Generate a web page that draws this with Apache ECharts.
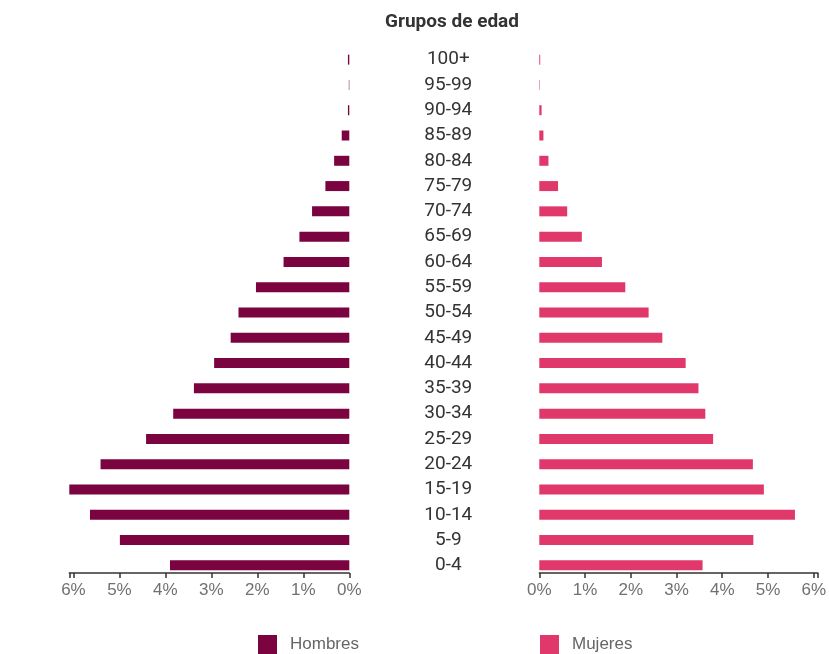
<!DOCTYPE html>
<html>
<head>
<meta charset="utf-8">
<title>Grupos de edad</title>
<script src="https://cdn.jsdelivr.net/npm/echarts@6/dist/echarts.min.js"></script>
<style>
  html, body { margin: 0; padding: 0; background: #fff; }
  #chart { width: 829px; height: 654px; }
</style>
</head>
<body>
<div id="chart"></div>
<script>
// age groups, bottom to top
const ageGroups = ['0-4', '5-9', '10-14', '15-19', '20-24', '25-29', '30-34', '35-39', '40-44',
  '45-49', '50-54', '55-59', '60-64', '65-69', '70-74', '75-79', '80-84', '85-89', '90-94', '95-99', '100+']

// % of population
const hombres = [3.90, 4.99, 5.64, 6.09, 5.41, 4.42, 3.83, 3.38, 2.94,
  2.58, 2.41, 2.03, 1.43, 1.085, 0.81, 0.52, 0.33, 0.165, 0.03, 0.01, 0.03]
const mujeres = [3.57, 4.68, 5.59, 4.91, 4.67, 3.80, 3.63, 3.48, 3.20,
  2.69, 2.39, 1.88, 1.37, 0.93, 0.61, 0.41, 0.20, 0.09, 0.05, 0.01, 0.02]

const seriesNames = ['Hombres', 'Mujeres']
const colors = ['#7b0340', '#e0386a']

const axisMax = Math.max(...hombres, ...mujeres)

const chart = echarts.init(document.getElementById('chart'))

const gridTop = 47
const gridBottom = 76

const valueAxis = (gridIndex, inverse) => ({
  type: 'value',
  gridIndex,
  inverse,
  min: 0,
  max: axisMax,
  interval: 1,
  position: 'bottom',
  offset: -5,
  splitLine: { show: false },
  axisLine: { show: true, lineStyle: { color: '#333', width: 1.5 } },
  axisTick: { show: true, length: 5, lineStyle: { color: '#333', width: 1.5 } },
  axisLabel: {
    color: '#707070',
    fontSize: 17,
    fontFamily: 'Liberation Sans, Arial, sans-serif',
    margin: 9,
    formatter: v => Number.isInteger(v) ? v + '%' : ''
  }
})

const legendStyle = {
  top: 635,
  padding: 0,
  icon: 'rect',
  itemWidth: 19,
  itemHeight: 19,
  textStyle: { color: '#666', fontSize: 17, fontFamily: 'Liberation Sans, Arial, sans-serif', padding: [2, 0, 0, 8] }
}

chart.setOption({
  animation: false,
  title: {
    text: 'Grupos de edad',
    left: 447,
    top: 8,
    textAlign: 'center',
    textStyle: {
      fontFamily: 'Roboto',
      fontWeight: 'bold',
      fontSize: 19,
      color: '#333'
    }
  },
  legend: [
    { ...legendStyle, data: [seriesNames[0]], left: 258 },
    { ...legendStyle, data: [seriesNames[1]], left: 540 }
  ],
  grid: [
    { left: 69.3, right: 479.7, top: gridTop, bottom: gridBottom },
    { left: 539.3, right: 10.3, top: gridTop, bottom: gridBottom }
  ],
  xAxis: [valueAxis(0, true), valueAxis(1, false)],
  yAxis: [
    {
      type: 'category',
      gridIndex: 0,
      data: ageGroups,
      axisLine: { show: false },
      axisTick: { show: false },
      axisLabel: { show: false }
    },
    {
      type: 'category',
      gridIndex: 1,
      data: ageGroups,
      axisLine: { show: false },
      axisTick: { show: false },
      axisLabel: {
        align: 'center',
        margin: 91,
        color: '#333',
        fontSize: 19,
        fontFamily: 'Roboto',
        padding: [2, 0, 0, 0]
      }
    }
  ],
  series: [
    {
      name: seriesNames[0],
      type: 'bar',
      xAxisIndex: 0,
      yAxisIndex: 0,
      barWidth: 10,
      itemStyle: { color: colors[0] },
      data: hombres
    },
    {
      name: seriesNames[1],
      type: 'bar',
      xAxisIndex: 1,
      yAxisIndex: 1,
      barWidth: 10,
      itemStyle: { color: colors[1] },
      data: mujeres
    }
  ]
})
</script>
</body>
</html>
